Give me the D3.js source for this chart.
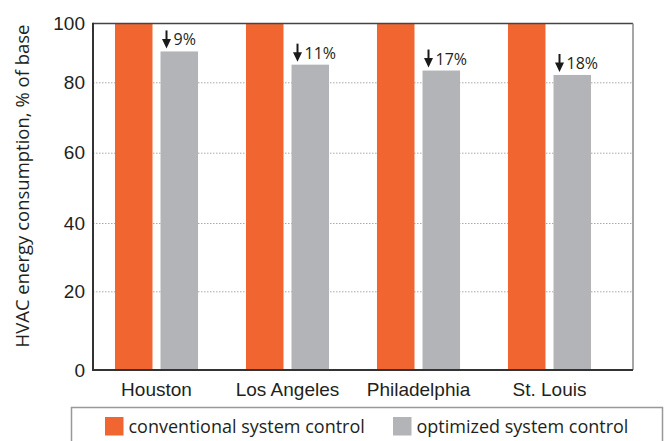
<!DOCTYPE html>
<html>
<head>
<meta charset="utf-8">
<script src="https://cdn.jsdelivr.net/npm/d3@7"></script>
<style>
  body { margin: 0; background: #fff; }
  svg { font-family: 'Open Sans', sans-serif; }
  .axis text { fill: #231f20; }
</style>
</head>
<body>
<svg id="chart" width="665" height="441"></svg>
<script>
const cities = ['Houston', 'Los Angeles', 'Philadelphia', 'St. Louis'];
const seriesNames = ['conventional system control', 'optimized system control'];
const conventional = [100, 100, 100, 100];
const optimized = [90.5, 86, 84, 82.5];
const reductions = ['9%', '11%', '17%', '18%'];
const yTicks = [0, 20, 40, 60, 80, 100];

const colors = ['#f16531', '#b3b4b7'];

function drawChart() {
  const svg = d3.select('#chart');

  const left = 93, right = 633, top = 23.5, bottom = 370;

  // the original gridlines are not evenly spaced, so map each tick to where it sits
  const y = d3.scaleLinear()
    .domain(yTicks)
    .range([bottom, 291.3, 223, 152.7, 82.3, top]);

  const x0 = d3.scaleBand()
    .domain(cities)
    .range([91, 615])
    .paddingInner(0.366)
    .paddingOuter(0.183);

  const x1 = d3.scaleBand()
    .domain(seriesNames)
    .range([0, x0.bandwidth()])
    .paddingInner(0.176);

  const rows = cities.map((c, i) => ({
    city: c,
    values: [conventional[i], optimized[i]],
    cut: reductions[i]
  }));

  // grid
  svg.append('g')
    .attr('class', 'grid')
    .attr('transform', `translate(${left}, 0)`)
    .call(d3.axisLeft(y).tickValues(yTicks.slice(1, -1)).tickSize(-(right - left)).tickFormat(''))
    .call(g => g.select('.domain').remove())
    .call(g => g.selectAll('line')
      .attr('stroke', '#aaa')
      .attr('stroke-width', 1)
      .attr('stroke-dasharray', '1.5,1.5'));

  const groups = svg.selectAll('g.city')
      .data(rows)
    .join('g')
      .attr('class', 'city')
      .attr('transform', d => `translate(${x0(d.city)}, 0)`);

  groups.selectAll('rect')
      .data(d => d.values.map((v, i) => ({key: seriesNames[i], value: v, i})))
    .join('rect')
      .attr('x', d => x1(d.key))
      .attr('y', d => y(d.value))
      .attr('width', x1.bandwidth())
      .attr('height', d => bottom - y(d.value))
      .attr('fill', d => colors[d.i]);

  // reduction labels with down arrows
  const cut = groups.append('g')
    .attr('transform', d => `translate(${x1(seriesNames[1])}, ${y(d.values[1])})`);

  cut.append('line')
    .attr('x1', 6).attr('x2', 6)
    .attr('y1', -21).attr('y2', -10)
    .attr('stroke', '#1a1a1a')
    .attr('stroke-width', 2);

  cut.append('path')
    .attr('d', 'M1.5,-12.5L10.5,-12.5L6,-3Z')
    .attr('fill', '#1a1a1a');

  cut.append('text')
    .attr('x', 13)
    .attr('y', -6)
    .attr('font-size', 16)
    .attr('fill', '#231f20')
    .text(d => d.cut);

  // frame
  svg.append('line').attr('x1', left).attr('x2', right).attr('y1', top).attr('y2', top)
    .attr('stroke', '#444').attr('stroke-width', 1.5);
  svg.append('line').attr('x1', right).attr('x2', right).attr('y1', top).attr('y2', bottom)
    .attr('stroke', '#888').attr('stroke-width', 1.5);
  svg.append('line').attr('x1', left).attr('x2', left).attr('y1', top - 0.75).attr('y2', bottom + 1)
    .attr('stroke', '#333').attr('stroke-width', 2);
  svg.append('line').attr('x1', left).attr('x2', right).attr('y1', bottom).attr('y2', bottom)
    .attr('stroke', '#333').attr('stroke-width', 2);

  svg.append('g')
    .attr('class', 'axis')
    .attr('transform', `translate(${left}, 0)`)
    .call(d3.axisLeft(y).tickValues(yTicks).tickSize(0).tickPadding(8))
    .call(g => g.select('.domain').remove())
    .call(g => g.selectAll('text').attr('font-size', 19).attr('font-family', null));

  svg.append('g')
    .attr('class', 'axis')
    .attr('transform', `translate(0, ${bottom})`)
    .call(d3.axisBottom(x0).tickSize(0).tickPadding(13))
    .call(g => g.select('.domain').remove())
    .call(g => g.selectAll('text').attr('font-size', 19).attr('font-family', null));

  svg.append('text')
    .attr('transform', 'translate(29, 186) rotate(-90)')
    .attr('text-anchor', 'middle')
    .attr('font-size', 18.5)
    .attr('fill', '#231f20')
    .text('HVAC energy consumption, % of base');

  // legend
  svg.append('rect')
    .attr('x', 71.5).attr('y', 407.5)
    .attr('width', 591).attr('height', 60)
    .attr('fill', 'none')
    .attr('stroke', '#999')
    .attr('stroke-width', 1.5);

  const legendX = [105, 393];
  const item = svg.selectAll('g.legend')
      .data(seriesNames)
    .join('g')
      .attr('class', 'legend')
      .attr('transform', (d, i) => `translate(${legendX[i]}, 417)`);

  item.append('rect')
    .attr('width', 18.5).attr('height', 18.5)
    .attr('fill', (d, i) => colors[i]);

  item.append('text')
    .attr('x', 23.5)
    .attr('y', 16)
    .attr('font-size', 18)
    .attr('fill', '#231f20')
    .text(d => d);
}

drawChart();
</script>
</body>
</html>
